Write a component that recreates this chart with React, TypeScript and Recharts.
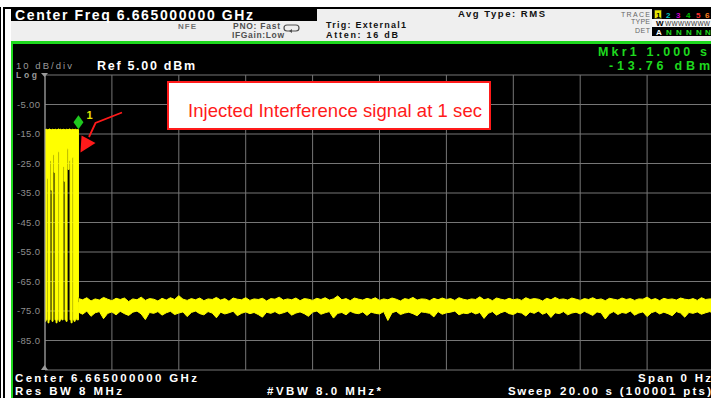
import React from 'react';
import { ComposedChart, Area, XAxis, YAxis, CartesianGrid, ReferenceDot } from 'recharts';

// ---- axis definitions ----
const TIME_TICKS = [0, 2, 4, 6, 8, 10, 12, 14, 16, 18, 20];
const LEVEL_TICKS = [5, -5, -15, -25, -35, -45, -55, -65, -75, -85, -95];
const LEVEL_LABELS = ['', '-5.00', '-15.0', '-25.0', '-35.0', '-45.0', '-55.0', '-65.0', '-75.0', '-85.0', ''];

// ---- injected interference burst (0 .. 1 s), min/max envelope in dBm ----
const BURST_T = [0, 0.03, 0.06, 0.09, 0.12, 0.15, 0.18, 0.21, 0.24, 0.27, 0.30, 0.33, 0.36, 0.39, 0.42, 0.45, 0.48, 0.51, 0.54, 0.57, 0.60, 0.63, 0.66, 0.69, 0.72, 0.75, 0.78, 0.81, 0.84, 0.87, 0.90, 0.93, 0.96, 0.99, 1.00];
const BURST_HI = [-13.5, -13.4, -13.6, -13.5, -13.3, -13.5, -13.6, -13.4, -13.5, -13.5, -13.4, -13.6, -13.5, -13.3, -13.5, -13.4, -13.6, -13.5, -13.4, -13.5, -13.6, -13.4, -13.5, -13.5, -13.3, -13.5, -13.6, -13.4, -13.5, -13.5, -13.4, -13.6, -13.5, -13.5, -70.5];
const BURST_LO = [-78.5, -78, -30, -79, -78, -24, -34, -78.5, -22, -28, -78, -79, -78, -21, -78.5, -78, -77.5, -78, -26, -31, -78, -78.5, -20, -27, -24, -78, -79, -23, -78, -78.5, -78, -77.5, -78, -78, -72];

// ---- noise floor after the burst (1 .. 20 s, sweep samples every 0.125 s) ----
const NOISE_START = 1;
const NOISE_STEP = 0.125;
const NOISE_HI = [
  -70.8, -71.2, -70.5, -71.6, -70.9, -71.3, -70.4, -71.0, -71.5, -70.7,
  -71.1, -70.6, -71.8, -70.9, -71.2, -70.3, -71.4, -70.8, -71.0, -71.6,
  -70.7, -71.3, -70.5, -71.1, -69.8, -71.0, -71.4, -70.8, -71.2, -70.6,
  -71.5, -70.9, -71.1, -70.4, -71.3, -70.8, -71.7, -70.6, -71.0, -71.2,
  -70.5, -71.4, -70.9, -71.1, -70.7, -71.6, -70.8, -71.0, -70.3, -71.3,
  -70.9, -71.2, -70.6, -71.5, -70.8, -71.0, -71.4, -70.7, -71.1, -70.5,
  -71.3, -70.9, -69.9, -71.2, -70.8, -71.5, -70.6, -71.0, -71.3, -70.7,
  -71.1, -70.5, -71.4, -70.9, -71.2, -70.6, -71.0, -71.6, -70.8, -71.1,
  -70.4, -71.3, -70.9, -71.0, -71.5, -70.7, -71.2, -70.6, -71.1, -70.8,
  -71.4, -70.5, -71.0, -71.3, -70.9, -71.1, -70.2, -71.2, -70.8, -71.5,
  -70.6, -71.0, -71.3, -70.7, -71.2, -70.9, -71.4, -70.5, -71.1, -70.8,
  -71.0, -71.6, -70.7, -71.2, -70.4, -71.1, -70.9, -71.3, -70.6, -71.0,
  -71.4, -70.8, -71.1, -70.5, -71.2, -70.9, -71.5, -70.7, -71.0, -71.3,
  -70.6, -71.1, -70.8, -71.4, -70.9, -71.0, -70.3, -71.2, -70.8, -71.5,
  -70.7, -71.1, -70.9, -71.3, -70.6, -71.0, -71.2, -70.8, -71.4, -70.5,
  -71.1, -70.9, -71.0,
];
const NOISE_LO = [
  -75.4, -76.1, -75.0, -76.8, -75.6, -75.2, -77.6, -75.8, -75.3, -76.3,
  -75.1, -75.9, -76.5, -75.4, -75.0, -76.0, -77.9, -75.5, -75.8, -75.2,
  -76.4, -75.6, -75.1, -76.2, -75.7, -75.3, -76.9, -75.5, -75.0, -75.9,
  -76.3, -75.2, -75.7, -77.3, -75.4, -76.0, -75.6, -75.1, -76.6, -75.8,
  -75.3, -75.9, -75.5, -76.2, -77.1, -75.4, -75.8, -75.2, -76.0, -75.6,
  -75.1, -76.4, -75.7, -75.3, -75.9, -76.8, -75.4, -75.0, -76.1, -75.6,
  -75.2, -77.4, -75.8, -75.5, -76.3, -75.1, -75.7, -75.9, -75.3, -76.5,
  -75.4, -75.8, -76.0, -75.2, -78.2, -75.6, -75.1, -76.2, -75.7, -75.4,
  -75.9, -76.6, -75.3, -75.5, -75.8, -77.0, -75.2, -76.1, -75.6, -75.4,
  -75.0, -76.3, -75.7, -75.9, -75.3, -76.0, -75.5, -77.5, -75.8, -75.2,
  -76.4, -75.6, -75.1, -75.9, -76.2, -75.4, -75.7, -76.7, -75.3, -75.8,
  -75.0, -76.1, -75.5, -77.2, -75.6, -75.9, -75.2, -76.3, -75.7, -75.4,
  -76.0, -75.1, -75.8, -76.5, -75.3, -75.6, -77.7, -75.9, -75.2, -76.2,
  -75.5, -75.8, -75.0, -76.4, -75.7, -75.3, -76.9, -75.6, -75.1, -76.0,
  -75.4, -75.9, -76.6, -75.2, -75.7, -77.1, -75.5, -75.8, -75.3, -76.1,
  -75.6, -75.2, -75.9,
];

// ---- marker ----
const MARKER_T = 1.0;
const MARKER_DBM = -13.76;

const burstData = BURST_T.map((t, i) => ({ t, range: [BURST_LO[i], BURST_HI[i]] }));
const noiseData = NOISE_HI.map((hi, i) => ({ t: NOISE_START + i * NOISE_STEP, range: [NOISE_LO[i], hi] }));

const FONT = '"Liberation Sans", Arial, Helvetica, sans-serif';
const YELLOW = '#ffff00';
const GREEN = '#1ed81e';

const YTick = (props: any) => {
  const { x, y, payload } = props;
  const idx = LEVEL_TICKS.indexOf(payload.value);
  const lab = idx >= 0 ? LEVEL_LABELS[idx] : '';
  if (!lab) return null;
  return (
    <text x={x} y={y} dy={3} textAnchor="end" fill="#8e8e8e" fontSize={9.5} fontFamily={FONT} textLength={23} lengthAdjust="spacing">
      {lab}
    </text>
  );
};

const Diamond = (props: any) => {
  const { cx, cy } = props;
  if (cx == null || cy == null) return null;
  const c = cy - 8;
  return (
    <g>
      <path d={`M${cx},${c - 7} L${cx + 5},${c} L${cx},${c + 7} L${cx - 5},${c} Z`} fill="#1ec81e" />
      <text x={cx + 8} y={cy - 11} fill="#e6e600" fontSize={11} fontWeight="bold" fontFamily={FONT}>1</text>
    </g>
  );
};

type TxtProps = { x: number; y: number; w?: number; size: number; fill: string; bold?: boolean; anchor?: 'start' | 'end' | 'middle'; children: React.ReactNode };
const Txt = ({ x, y, w, size, fill, bold, anchor, children }: TxtProps) => (
  <text
    x={x}
    y={y}
    fontSize={size}
    fill={fill}
    fontWeight={bold ? 'bold' : 'normal'}
    fontFamily={FONT}
    textAnchor={anchor || 'start'}
    {...(w ? { textLength: w, lengthAdjust: 'spacing' } : {})}
  >
    {children}
  </text>
);

const box = (l: number, t: number, w: number, h: number, bg: string): React.CSSProperties => ({
  position: 'absolute', left: l, top: t, width: w, height: h, background: bg,
});

export default function App() {
  return (
    <div style={{ position: 'fixed', left: 0, top: 0, width: 711, height: 398, overflow: 'hidden', background: '#ffffff' }}>
      {/* instrument frame */}
      <div style={box(0, 7, 1, 391, '#000')} />
      <div style={box(3, 7, 2, 391, '#000')} />
      <div style={box(3, 7, 708, 1.5, '#000')} />
      <div style={box(11, 8.5, 700, 33, '#efefef')} />
      <div style={box(11, 8.5, 306, 12.5, '#000')} />
      <div style={box(11, 41, 700, 3, GREEN)} />
      <div style={box(11, 41, 2, 357, GREEN)} />
      <div style={box(13, 44, 698, 354, '#000')} />

      <div style={{ position: 'absolute', left: 0, top: 0 }}>
        <ComposedChart width={714} height={398} margin={{ top: 75, right: 0, bottom: 28, left: 0 }}>
          <CartesianGrid stroke="#767676" strokeWidth={1} />
          <XAxis dataKey="t" type="number" domain={[0, 20]} ticks={TIME_TICKS} hide allowDataOverflow />
          <YAxis
            type="number"
            domain={[-95, 5]}
            ticks={LEVEL_TICKS}
            width={45}
            tickSize={0}
            tickMargin={5}
            tick={<YTick />}
            axisLine={{ stroke: '#9a9a9a' }}
            tickLine={false}
            interval={0}
            allowDataOverflow
          />
          <Area
            data={burstData}
            dataKey="range"
            type="stepAfter"
            stroke={YELLOW}
            strokeWidth={1}
            fill={YELLOW}
            fillOpacity={1}
            dot={false}
            activeDot={false}
            isAnimationActive={false}
          />
          <Area
            data={noiseData}
            dataKey="range"
            type="linear"
            stroke={YELLOW}
            strokeWidth={1}
            fill={YELLOW}
            fillOpacity={1}
            dot={false}
            activeDot={false}
            isAnimationActive={false}
          />
          <ReferenceDot x={MARKER_T} y={MARKER_DBM} shape={<Diamond />} />
        </ComposedChart>
      </div>

      {/* overlay: annotations & instrument text */}
      <svg width={711} height={398} style={{ position: 'absolute', left: 0, top: 0, pointerEvents: 'none' }}>
        {/* header */}
        <Txt x={15} y={19.5} w={238} size={14} fill="#fff" bold>Center Freq 6.665000000 GHz</Txt>
        <Txt x={178} y={29} w={18} size={8} fill="#707070" bold>NFE</Txt>
        <Txt x={233} y={29} w={47} size={8.5} fill="#505050" bold>PNO: Fast</Txt>
        <Txt x={232} y={38} w={52} size={8.5} fill="#505050" bold>IFGain:Low</Txt>
        <path d="M287,25 h9 a3,3 0 0 1 3,3 v0 a3,3 0 0 1 -3,3 h-9 a3,3 0 0 1 -3,-3 a3,3 0 0 1 3,-3" fill="none" stroke="#505050" strokeWidth={1.2} />
        <path d="M289,31 l3,-2 v4 z" fill="#505050" />
        <Txt x={326} y={28} w={80} size={9} fill="#111" bold>Trig: External1</Txt>
        <Txt x={326} y={37.5} w={72} size={9} fill="#111" bold>Atten: 16 dB</Txt>
        <Txt x={458} y={17} w={87} size={9.5} fill="#111" bold>Avg Type: RMS</Txt>
        <Txt x={650} y={16.5} w={29} size={7} fill="#666" anchor="end">TRACE</Txt>
        <Txt x={650} y={24} w={19} size={7} fill="#666" anchor="end">TYPE</Txt>
        <Txt x={650} y={32.5} w={15} size={7} fill="#666" anchor="end">DET</Txt>
        <rect x={652} y={9} width={59} height={10} fill="#000" />
        <rect x={654.5} y={10} width={7} height={8.5} fill="#e8e800" stroke="#222" strokeWidth={0.6} />
        <Txt x={656} y={17.5} size={8} fill="#000" bold>1</Txt>
        <Txt x={666} y={17.5} size={8} fill="#00c8c8" bold>2</Txt>
        <Txt x={676} y={17.5} size={8} fill="#d000d0" bold>3</Txt>
        <Txt x={686} y={17.5} size={8} fill="#00c000" bold>4</Txt>
        <Txt x={696} y={17.5} size={8} fill="#ff3030" bold>5</Txt>
        <Txt x={705} y={17.5} size={8} fill="#ff8020" bold>6</Txt>
        <rect x={652} y={19} width={59} height={8} fill="#f6f6f6" />
        <Txt x={656} y={26} size={8} fill="#000" bold>W</Txt>
        <Txt x={665} y={25.5} w={45} size={6.5} fill="#333">WWWWWWW</Txt>
        <rect x={652} y={27} width={59} height={9} fill="#000" />
        <Txt x={656} y={34.5} size={8} fill="#fff" bold>A</Txt>
        <Txt x={666} y={34.5} size={8} fill={GREEN} bold>N</Txt>
        <Txt x={676} y={34.5} size={8} fill={GREEN} bold>N</Txt>
        <Txt x={686} y={34.5} size={8} fill={GREEN} bold>N</Txt>
        <Txt x={696} y={34.5} size={8} fill={GREEN} bold>N</Txt>
        <Txt x={705} y={34.5} size={8} fill={GREEN} bold>N</Txt>

        {/* screen labels */}
        <Txt x={598} y={55.5} w={109} size={12.5} fill={GREEN} bold>Mkr1 1.000 s</Txt>
        <Txt x={609} y={69.5} w={101} size={12.5} fill={GREEN} bold>-13.76 dBm</Txt>
        <Txt x={16} y={69} w={56} size={9.5} fill="#9a9a9a">10 dB/div</Txt>
        <Txt x={16} y={77.5} w={21} size={8.5} fill="#9a9a9a" bold>Log</Txt>
        <path d="M41,73 h7 l-3.5,4 z" fill="#9a9a9a" />
        <path d="M41,370 h7 l-3.5,-5 z" fill="#9a9a9a" />
        <Txt x={97} y={70} w={98} size={12.5} fill="#fff" bold>Ref 5.00 dBm</Txt>

        {/* footer */}
        <Txt x={15} y={381.5} w={182} size={11.5} fill="#fff" bold>Center 6.665000000 GHz</Txt>
        <Txt x={711} y={381.5} w={73} size={11.5} fill="#fff" bold anchor="end">Span 0 Hz</Txt>
        <Txt x={15} y={394.5} w={107} size={11.5} fill="#fff" bold>Res BW 8 MHz</Txt>
        <Txt x={267} y={394.5} w={114} size={11.5} fill="#fff" bold>#VBW 8.0 MHz*</Txt>
        <Txt x={508} y={394.5} w={43} size={11.5} fill="#fff" bold>Sweep</Txt>
        <Txt x={560} y={394.5} w={151} size={11.5} fill="#fff" bold>20.00 s (100001 pts)</Txt>

        {/* annotation */}
        <rect x={168} y={82} width={322} height={47} fill="#ffffff" stroke="#ff1a1a" strokeWidth={2} />
        <Txt x={188} y={117} w={294} size={18.5} fill="#ff1a1a">Injected Interference signal at 1 sec</Txt>
        <polyline points="122,112.5 95.5,123 89,137" fill="none" stroke="#ff1a1a" strokeWidth={1.8} />
        <path d="M81.5,135.5 L95.5,143 L80.5,152.5 Z" fill="#ff1a1a" />
      </svg>
    </div>
  );
}
